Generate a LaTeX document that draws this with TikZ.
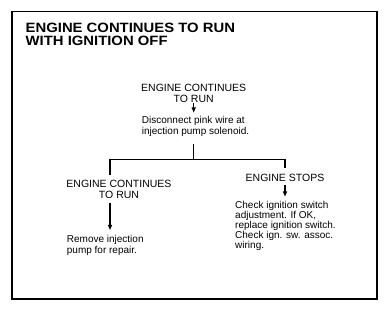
\documentclass[tikz,border=0pt]{standalone}
\usepackage{graphicx}
\usepackage{fontspec}
\setmainfont{Liberation Sans}
\usetikzlibrary{arrows.meta}
\begin{document}
\begin{tikzpicture}[x=1pt,y=-1pt,
  lbl/.style={inner sep=0pt, font=\fontsize{10.5}{11}\selectfont, align=center},
  body/.style={inner sep=0pt, font=\fontsize{10}{10.5}\selectfont, align=left},
  conn/.style={line width=1.1pt},
  arr/.style={line width=1.1pt, -{Triangle[width=4pt,length=5pt]}}]
\fill[white] (0,0) rectangle (389,313);
\useasboundingbox (0,0) rectangle (389,313);
\draw[line width=1.5pt] (12,11.5) rectangle (377,299);
\node[anchor=north west, inner sep=0pt, align=left, font=\bfseries\fontsize{13.5}{13.4}\selectfont] (title) at (25.5,22.8) {\scalebox{1.1}[1]{ENGINE CONTINUES TO RUN}\\\scalebox{1.1}[1]{WITH IGNITION OFF}};
\node[lbl, anchor=north] (top) at (193.7,83.5) {ENGINE CONTINUES\\TO RUN};
\node[body, anchor=north west, font=\fontsize{10}{11}\selectfont] (dis) at (141.7,116) {Disconnect pink wire at\\injection pump solenoid.};
\coordinate (jl) at (110,159.5);
\coordinate (jr) at (285,159.5);
\node[lbl, anchor=north] (cont2) at (119,179.5) {ENGINE CONTINUES\\TO RUN};
\node[lbl, anchor=north] (stops) at (285,173.5) {ENGINE STOPS};
\node[body, anchor=north west] (rem) at (66.7,235.5) {Remove injection\\pump for repair.};
\node[body, anchor=north west, font=\fontsize{10}{10}\selectfont] (chk) at (235,201) {Check ignition switch\\adjustment. If OK,\\replace ignition switch.\\Check ign. sw. assoc.\\wiring.};
\draw[arr, shorten <=0.6pt, shorten >=3.5pt] (top.south) -- (top.south |- dis.north);
\draw[conn, shorten <=7pt] (top.south |- dis.south) -- (top.south |- jl);
\draw[conn, shorten <=4.5pt, shorten >=5.5pt] (cont2.north -| jl) -- (jl) -- (jr) -- (stops.north -| jr);
\draw[arr, shorten <=4.4pt, shorten >=5.5pt] (cont2.south -| jl) -- (rem.north -| jl);
\draw[arr, shorten <=3.3pt, shorten >=4.5pt] (stops.south) -- (stops.south |- chk.north);
\end{tikzpicture}
\end{document}
